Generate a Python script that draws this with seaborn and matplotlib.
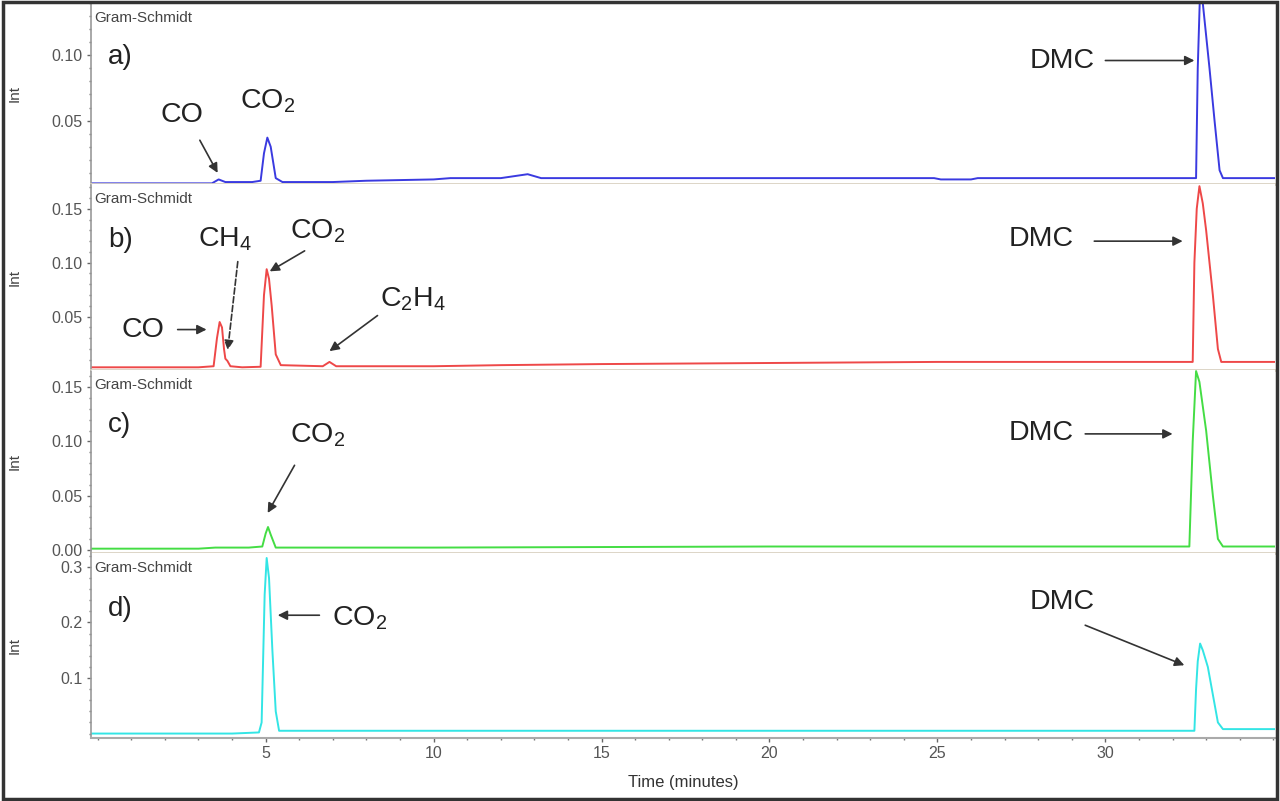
import numpy as np
import matplotlib
matplotlib.use("Agg")
import matplotlib.pyplot as plt
import matplotlib.patches as mpatches
from matplotlib.ticker import MultipleLocator, FormatStrFormatter
import seaborn as sns

# chromatogram traces (time in minutes, intensity)
time_a = [-0.2, 2.5, 3.4, 3.6, 3.8, 4.2, 4.6, 4.85, 4.95, 5.05, 5.15, 5.3, 5.5, 7.0, 8.0, 10.0, 10.5,
          12.0, 12.8, 13.2, 15.0, 20.0, 24.9, 25.1, 26.0, 26.2, 30.0, 32.7, 32.75, 32.82, 32.9, 33.0,
          33.1, 33.25, 33.4, 33.5, 35.1]
int_a = [0.002, 0.002, 0.002, 0.005, 0.003, 0.003, 0.003, 0.004, 0.025, 0.037, 0.03, 0.006, 0.003,
         0.003, 0.004, 0.005, 0.006, 0.006, 0.009, 0.006, 0.006, 0.006, 0.006, 0.005, 0.005, 0.006,
         0.006, 0.006, 0.09, 0.15, 0.14, 0.115, 0.09, 0.05, 0.012, 0.006, 0.006]

time_b = [-0.2, 3.0, 3.45, 3.55, 3.63, 3.7, 3.76, 3.8, 3.86, 3.95, 4.3, 4.85, 4.95, 5.03, 5.1, 5.18,
          5.3, 5.45, 6.7, 6.9, 7.1, 10.0, 12.0, 15.0, 20.0, 25.0, 32.6, 32.65, 32.72, 32.8, 32.9,
          33.0, 33.2, 33.35, 33.45, 35.1]
int_b = [0.003, 0.003, 0.004, 0.03, 0.045, 0.04, 0.02, 0.011, 0.009, 0.004, 0.003, 0.0035, 0.07,
         0.094, 0.085, 0.06, 0.015, 0.005, 0.004, 0.008, 0.004, 0.004, 0.005, 0.006, 0.007, 0.008,
         0.008, 0.1, 0.15, 0.171, 0.155, 0.13, 0.07, 0.02, 0.008, 0.008]

time_c = [-0.2, 3.0, 3.5, 4.5, 4.9, 5.0, 5.07, 5.15, 5.3, 10.0, 20.0, 30.0, 32.5, 32.6, 32.7, 32.8,
          33.0, 33.2, 33.35, 33.5, 35.1]
int_c = [0.001, 0.001, 0.002, 0.002, 0.003, 0.015, 0.021, 0.014, 0.002, 0.002, 0.003, 0.003, 0.003,
         0.1, 0.165, 0.155, 0.11, 0.05, 0.01, 0.003, 0.003]

time_d = [-0.2, 4.0, 4.8, 4.88, 4.97, 5.03, 5.1, 5.2, 5.3, 5.4, 10.0, 30.0, 32.65, 32.7, 32.75,
          32.82, 32.9, 33.05, 33.2, 33.35, 33.5, 35.1]
int_d = [0.0, 0.0, 0.002, 0.02, 0.25, 0.316, 0.28, 0.15, 0.04, 0.005, 0.005, 0.005, 0.005, 0.08,
         0.13, 0.162, 0.15, 0.12, 0.07, 0.02, 0.008, 0.008]

panel_labels = ["a)", "b)", "c)", "d)"]
line_colors = ["#3a3ae0", "#ee4848", "#44dd44", "#33e5e5"]
y_limits = [(0.0015, 0.14), (0.0005, 0.173), (-0.003, 0.166), (-0.008, 0.325)]
y_ticks = [[0.05, 0.10], [0.05, 0.10, 0.15], [0.0, 0.05, 0.10, 0.15], [0.1, 0.2, 0.3]]
y_minor = [0.01, 0.01, 0.01, 0.02]
y_fmt = ["%.2f", "%.2f", "%.2f", "%.1f"]
x_ticks = [5, 10, 15, 20, 25, 30]

# annotations: (text, text_x, text_y, arrow_from, arrow_to, dashed)
notes_a = [("CO", 2.5, 0.054, (3.04, 0.035), (3.57, 0.010), False),
           ("CO$_2$", 5.06, 0.065, None, None, False),
           ("DMC", 28.7, 0.096, (30.0, 0.096), (32.65, 0.096), False)]
notes_b = [("CO", 1.34, 0.038, (2.38, 0.038), (3.24, 0.038), False),
           ("CH$_4$", 3.8, 0.122, (4.17, 0.101), (3.87, 0.019), True),
           ("CO$_2$", 6.55, 0.129, (6.16, 0.111), (5.12, 0.092), False),
           ("C$_2$H$_4$", 9.4, 0.066, (8.33, 0.051), (6.9, 0.018), False),
           ("DMC", 28.1, 0.122, (29.67, 0.12), (32.3, 0.12), False)]
notes_c = [("CO$_2$", 6.55, 0.106, (5.86, 0.078), (5.06, 0.034), False),
           ("DMC", 28.1, 0.108, (29.4, 0.107), (32.0, 0.107), False)]
notes_d = [("CO$_2$", 7.8, 0.208, (6.6, 0.213), (5.36, 0.213), False),
           ("DMC", 28.7, 0.237, (29.4, 0.195), (32.35, 0.123), False)]

sns.set_style("white")
plt.rcParams['font.family'] = ['Liberation Sans', 'DejaVu Sans']
plt.rcParams['mathtext.default'] = 'regular'

fig = plt.figure(figsize=(12.8, 8.01), dpi=100)

left = 91 / 1280
width = (1275 - 91) / 1280
rows_px = [(3, 184), (184, 370), (370, 553), (553, 738)]

traces = [(time_a, int_a), (time_b, int_b), (time_c, int_c), (time_d, int_d)]
notes = [notes_a, notes_b, notes_c, notes_d]

for i, (top, bot) in enumerate(rows_px):
    ax = fig.add_axes([left, 1 - bot / 801, width, (bot - top) / 801])
    t, y = traces[i]
    sns.lineplot(x=t, y=y, ax=ax, color=line_colors[i], linewidth=1.4, sort=False)
    ax.set_xlim(-0.2, 35.05)
    ax.set_ylim(*y_limits[i])

    ax.set_xticks(x_ticks)
    ax.xaxis.set_minor_locator(MultipleLocator(1))
    ax.set_yticks(y_ticks[i])
    ax.yaxis.set_minor_locator(MultipleLocator(y_minor[i]))
    ax.yaxis.set_major_formatter(FormatStrFormatter(y_fmt[i]))
    ax.tick_params(axis='both', which='major', length=3, width=1, color='#666',
                   labelsize=11.5, labelcolor='#555', pad=3, direction='out')
    ax.tick_params(axis='both', which='minor', length=1.5, width=1, color='#777', direction='out')
    ax.tick_params(left=True, bottom=True, which='both')
    if i < 3:
        ax.tick_params(axis='x', which='both', labelbottom=False, length=0)

    for s in ['top', 'right']:
        ax.spines[s].set_visible(False)
    ax.spines['left'].set_color('#999')
    ax.spines['left'].set_linestyle((0, (1, 1)))
    ax.spines['left'].set_linewidth(1.2)
    ax.spines['bottom'].set_color('#d9d2c2' if i < 3 else '#aaa')
    ax.spines['bottom'].set_linewidth(2 if i < 3 else 1.5)

    ax.set_ylabel("Int", fontsize=11, color='#444')
    ax.yaxis.set_label_coords(-0.059, 0.5)

    ax.text(0.003, 0.955, "Gram-Schmidt", transform=ax.transAxes, ha='left', va='top',
            fontsize=11, color='#444')
    ax.text(0.3, sum(ax.get_ylim()) / 2 + (ax.get_ylim()[1] - ax.get_ylim()[0]) * 0.2,
            panel_labels[i], fontsize=20, color='#222', ha='left', va='center')

    for label, tx, ty, a0, a1, dashed in notes[i]:
        ax.text(tx, ty, label, fontsize=20.5, color='#222', ha='center', va='center')
        if a0 is not None:
            ax.annotate("", xy=a1, xytext=a0,
                        arrowprops=dict(arrowstyle='-|>', color='#333', lw=1.2,
                                        linestyle='--' if dashed else '-',
                                        mutation_scale=14, shrinkA=0, shrinkB=0))

    if i == 3:
        ax.set_xlabel("Time (minutes)", fontsize=12, color='#333', labelpad=10)

fig.patches.append(mpatches.Rectangle((0.002, 0.003), 0.996, 0.994, transform=fig.transFigure,
                                      fill=False, lw=2.5, ec='#333'))

fig.savefig("out.png", dpi=100)
